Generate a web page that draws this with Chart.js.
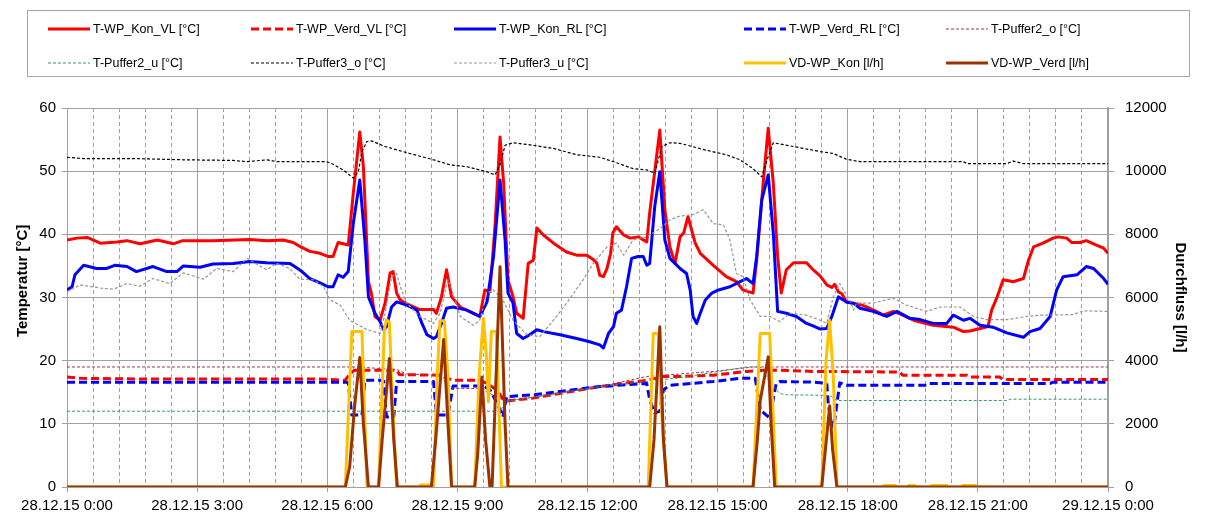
<!DOCTYPE html>
<html>
<head>
<meta charset="utf-8">
<title>Wärmepumpe 28.12.15</title>
<script src="https://cdn.jsdelivr.net/npm/chart.js@4.4.1/dist/chart.umd.min.js"></script>
<style>
  html, body { margin: 0; padding: 0; background: #fff; }
  #wrap { position: relative; width: 1210px; height: 515px; overflow: hidden; }
  #c { position: absolute; left: 0; top: 0; }
  #legend {
    position: absolute; left: 27px; top: 10px; width: 1163px; height: 67px;
    border: 1.5px solid #a6a6a6; box-sizing: border-box;
    font: 12.5px "Liberation Sans", Arial, sans-serif; color: #000;
  }
  .item { position: absolute; height: 16px; display: flex; align-items: center; white-space: nowrap; }
  .item svg { display: block; }
  .item span { position: absolute; top: 0; line-height: 16px; }
</style>
</head>
<body>
<div id="wrap">
  <canvas id="c" width="1210" height="515"></canvas>
  <div id="legend"></div>
</div>
<script>
// Zeit in Minuten ab 28.12.15 0:00, Werte in °C bzw. l/h
const seriesNames = [
  'T-WP_Kon_VL [°C]', 'T-WP_Verd_VL [°C]', 'T-WP_Kon_RL [°C]', 'T-WP_Verd_RL [°C]', 'T-Puffer2_o [°C]',
  'T-Puffer2_u [°C]', 'T-Puffer3_o [°C]', 'T-Puffer3_u [°C]', 'VD-WP_Kon [l/h]', 'VD-WP_Verd [l/h]'
];

const xTickLabels = [
  '28.12.15 0:00', '28.12.15 3:00', '28.12.15 6:00', '28.12.15 9:00', '28.12.15 12:00',
  '28.12.15 15:00', '28.12.15 18:00', '28.12.15 21:00', '29.12.15 0:00'
];

const tWpKonVL = [
  [0,39.1],[14,39.4],[28,39.5],[46,38.6],[69,38.8],[83,39.0],[101,38.5],[125,39.1],[147,38.5],[160,39.0],
  [202,39.0],[253,39.2],[277,39.0],[299,39.1],[313,38.7],[322,38.1],[336,37.3],[350,37.0],[361,36.5],[368,36.5],
  [375,38.7],[382,38.5],[389,38.3],[396,46.5],[405,56.2],[410,50.7],[417,32.5],[421,30.7],[426,27.0],[433,26.4],
  [440,29.1],[447,33.9],[451,34.1],[456,30.7],[461,29.6],[470,29.0],[488,28.1],[507,28.1],[511,27.5],[518,30.1],
  [525,34.4],[532,30.1],[544,28.5],[562,27.5],[571,27.0],[578,31.2],[585,30.9],[592,41.2],[599,55.4],[604,48.1],
  [610,32.8],[617,30.1],[622,27.5],[631,26.7],[638,35.4],[645,35.9],[650,41.0],[659,39.9],[673,38.6],[691,37.2],
  [705,36.7],[719,36.7],[728,36.0],[733,35.4],[737,33.5],[742,33.3],[747,34.6],[752,37.0],[755,40.2],[760,41.2],
  [770,39.9],[779,39.4],[790,39.6],[802,38.8],[806,43.4],[820,56.5],[827,43.8],[834,38.0],[841,35.4],[848,39.6],
  [853,40.2],[859,42.8],[869,38.6],[876,37.0],[894,35.1],[912,33.3],[926,32.5],[935,31.2],[949,30.7],[954,35.9],
  [963,48.1],[970,56.8],[977,48.1],[983,36.5],[988,30.7],[995,34.4],[1005,35.5],[1023,35.5],[1032,34.4],[1042,33.4],
  [1051,32.0],[1058,31.6],[1062,32.1],[1067,30.9],[1072,30.6],[1078,29.3],[1097,28.9],[1106,28.5],[1125,27.5],[1129,27.2],
  [1143,27.8],[1152,27.4],[1171,26.4],[1198,25.6],[1226,25.3],[1240,24.6],[1249,24.7],[1263,25.1],[1274,25.4],[1279,28.0],
  [1286,29.9],[1295,32.8],[1309,32.5],[1323,33.0],[1330,35.9],[1337,38.0],[1350,38.6],[1364,39.4],[1371,39.6],[1383,39.4],
  [1390,38.7],[1401,38.7],[1410,39.0],[1424,38.3],[1434,37.8],[1440,37.0]
];

const tWpVerdVL = [
  [0,17.4],[20,17.2],[100,17.1],[350,17.1],[385,16.9],[392,18.0],[398,18.5],[456,18.5],[460,17.8],[515,17.7],
  [534,16.9],[571,16.9],[581,16.4],[594,15.4],[603,14.0],[608,13.6],[645,14.1],[737,15.9],[802,16.9],[825,17.5],
  [848,17.5],[894,17.7],[940,18.3],[968,18.5],[986,18.5],[1032,18.3],[1152,18.2],[1156,17.7],[1245,17.7],[1249,17.4],
  [1290,17.4],[1295,17.0],[1440,17.0]
];

const tWpKonRL = [
  [0,31.2],[7,31.7],[11,33.6],[23,35.1],[41,34.6],[55,34.6],[66,35.1],[83,34.9],[96,34.1],[119,34.9],
  [138,34.1],[152,34.1],[161,35.0],[184,34.8],[202,35.3],[230,35.4],[253,35.7],[276,35.5],[308,35.4],[315,34.9],
  [325,34.1],[336,33.0],[350,32.3],[361,31.7],[368,31.7],[375,33.6],[382,33.2],[389,34.1],[396,41.7],[405,48.6],
  [412,39.1],[417,30.1],[426,27.5],[433,26.2],[438,24.9],[442,25.4],[449,28.5],[456,29.3],[470,28.8],[484,28.0],
  [491,25.9],[498,24.1],[507,23.5],[511,23.8],[518,25.9],[525,28.3],[534,28.5],[553,28.0],[571,27.0],[581,29.3],
  [590,36.5],[599,48.6],[606,39.1],[610,30.7],[617,29.1],[622,24.3],[631,23.5],[640,24.1],[650,24.9],[659,24.6],
  [682,24.1],[705,23.5],[723,23.0],[737,22.5],[742,22.0],[749,24.3],[756,25.4],[760,27.5],[767,28.0],[774,31.7],
  [781,36.2],[790,36.5],[797,36.5],[802,35.1],[806,35.4],[813,44.4],[820,49.9],[827,39.1],[834,36.2],[841,35.4],
  [848,34.6],[857,33.8],[862,31.2],[866,27.0],[871,25.9],[876,27.5],[883,29.6],[892,30.7],[899,31.1],[917,31.7],
  [931,32.5],[940,33.0],[949,32.2],[954,36.5],[961,45.4],[970,49.4],[977,40.2],[983,27.8],[995,27.5],[1009,27.0],
  [1023,25.9],[1032,25.5],[1042,25.0],[1051,25.1],[1058,27.0],[1067,30.1],[1074,29.6],[1078,29.3],[1088,29.1],[1097,28.3],
  [1115,27.8],[1134,27.0],[1148,27.8],[1166,26.7],[1180,26.5],[1198,25.9],[1217,25.9],[1226,27.2],[1240,26.4],[1249,26.7],
  [1263,25.6],[1281,25.3],[1300,24.4],[1323,23.7],[1332,24.6],[1346,25.1],[1360,27.0],[1369,31.2],[1378,33.3],[1397,33.6],
  [1410,34.9],[1420,34.6],[1434,33.0],[1440,32.1]
];

const tWpVerdRL = [
  [0,16.6],[385,16.6],[389,16.5],[394,11.4],[408,11.4],[412,16.9],[433,16.9],[438,16.8],[442,11.1],[452,11.1],
  [456,16.7],[507,16.7],[511,11.4],[527,11.4],[534,16.0],[576,16.0],[585,15.4],[596,13.0],[603,11.1],[608,14.3],
  [645,14.6],[737,15.9],[802,16.4],[806,13.8],[813,11.7],[820,12.0],[825,15.4],[834,16.1],[894,16.7],[931,17.2],
  [952,17.2],[959,12.2],[972,10.9],[981,16.4],[986,16.7],[1032,16.6],[1051,16.4],[1053,13.2],[1058,9.5],[1062,10.5],
  [1065,13.2],[1069,16.5],[1078,16.1],[1189,16.1],[1193,16.4],[1360,16.4],[1364,16.6],[1440,16.6]
];

const tPuffer2o = [
  [0,19.0],[400,19.0],[456,18.6],[470,17.9],[511,17.7],[525,16.5],[534,15.6],[571,15.6],[594,14.3],[606,13.6],
  [645,14.2],[737,15.9],[802,17.5],[894,18.3],[949,19.0],[1440,19.0]
];

const tPuffer2u = [
  [0,12.0],[599,12.0],[608,13.6],[645,14.2],[737,15.9],[848,17.3],[940,19.0],[959,19.0],[977,15.9],[986,14.8],
  [995,14.6],[1055,14.5],[1065,13.7],[1300,13.7],[1305,13.9],[1440,13.9]
];

const tPuffer3o = [
  [0,52.2],[23,52.0],[91,52.0],[161,51.8],[230,51.7],[249,51.5],[277,51.8],[290,51.5],[359,51.5],[368,51.1],
  [382,50.2],[396,48.9],[403,49.9],[408,53.1],[415,54.7],[421,54.8],[440,53.9],[474,52.8],[507,51.8],[530,51.0],
  [553,50.7],[581,49.9],[592,49.4],[599,51.0],[606,54.1],[617,54.5],[645,54.1],[673,53.6],[705,52.6],[737,52.2],
  [756,51.5],[783,50.4],[802,50.2],[813,49.7],[823,53.9],[834,54.5],[848,54.4],[885,53.3],[912,52.6],[931,51.8],
  [949,50.4],[961,49.1],[970,52.3],[977,54.5],[1005,53.9],[1042,53.1],[1060,52.8],[1078,51.9],[1097,51.5],[1240,51.5],
  [1245,51.2],[1300,51.2],[1309,51.6],[1323,51.2],[1440,51.2]
];

const tPuffer3u = [
  [0,30.9],[18,32.0],[46,31.5],[64,31.3],[83,32.2],[101,31.8],[119,33.0],[142,32.2],[161,33.9],[189,32.9],
  [207,34.6],[230,34.1],[249,36.2],[276,34.4],[290,35.4],[308,34.6],[322,32.9],[341,32.8],[355,31.7],[364,29.6],
  [378,28.8],[391,26.4],[415,24.9],[433,24.3],[440,27.5],[449,33.3],[456,33.8],[461,31.7],[470,29.1],[488,27.0],
  [507,25.9],[516,27.5],[527,32.8],[534,30.7],[544,27.0],[562,25.6],[571,26.4],[581,30.7],[590,31.2],[603,29.6],
  [617,26.4],[636,24.1],[654,23.8],[673,26.4],[691,29.1],[714,32.8],[728,35.4],[747,38.0],[760,38.6],[770,36.7],
  [783,39.1],[802,39.6],[820,40.9],[834,42.3],[848,42.9],[866,43.1],[880,43.9],[894,41.7],[908,41.5],[917,39.1],
  [926,33.8],[935,33.3],[945,29.6],[959,27.0],[972,27.0],[986,26.2],[1000,27.5],[1023,27.2],[1042,26.4],[1051,25.9],
  [1060,30.1],[1069,32.2],[1074,31.2],[1083,29.6],[1088,28.0],[1092,29.1],[1115,29.1],[1143,29.9],[1161,28.8],[1189,27.8],
  [1208,28.5],[1235,28.5],[1254,27.0],[1272,26.5],[1300,26.5],[1328,27.0],[1346,27.2],[1392,27.3],[1406,27.9],[1440,27.8]
];

const vdWpKon = [
  [0,0],[385,0],[394,4920],[408,4920],[415,0],[431,0],[435,2500],[439,5000],[442,5300],[446,5200],
  [450,2800],[456,0],[488,0],[489,60],[503,60],[504,0],[507,0],[512,3500],[516,5260],[522,5260],
  [527,3500],[532,0],[564,0],[570,3500],[576,5340],[580,4200],[583,2700],[587,4920],[594,4920],[601,0],
  [804,0],[811,4860],[818,4860],[822,2500],[830,0],[949,0],[959,4860],[972,4860],[981,0],[1044,0],
  [1050,4000],[1055,5280],[1060,3500],[1065,0],[1129,0],[1130,50],[1146,50],[1147,0],[1163,0],[1164,50],
  [1172,50],[1173,0],[1195,0],[1196,50],[1216,50],[1217,0],[1238,0],[1239,50],[1257,50],[1258,0],[1440,0]
];

const vdWpVerd = [
  [0,0],[385,0],[391,640],[398,2600],[405,4100],[410,2000],[417,0],[431,0],[436,1500],[446,4070],
  [452,1500],[457,0],[504,0],[510,1500],[521,4670],[527,2000],[532,0],[564,0],[568,1000],[574,3480],
  [579,1500],[585,0],[588,0],[599,6970],[606,2000],[610,0],[806,0],[812,1500],[820,5070],[825,1500],
  [830,0],[949,0],[955,1500],[959,2750],[970,4120],[974,2000],[979,0],[1044,0],[1055,2570],[1059,1200],
  [1065,0],[1440,0]
];

const seriesData = [tWpKonVL, tWpVerdVL, tWpKonRL, tWpVerdRL, tPuffer2o, tPuffer2u, tPuffer3o, tPuffer3u, vdWpKon, vdWpVerd];

// Linienstile der Reihen
const seriesStyles = [
  { color: '#ff0000', width: 3,   dash: [],     axis: 'y'  },
  { color: '#ff0000', width: 3,   dash: [8, 4], axis: 'y'  },
  { color: '#0000ff', width: 3,   dash: [],     axis: 'y'  },
  { color: '#0000ff', width: 3,   dash: [8, 4], axis: 'y'  },
  { color: '#993366', width: 1,   dash: [3, 2], axis: 'y'  },
  { color: '#339966', width: 1,   dash: [3, 2], axis: 'y'  },
  { color: '#000000', width: 1.2, dash: [3, 2], axis: 'y'  },
  { color: '#969696', width: 1.2, dash: [3, 2], axis: 'y'  },
  { color: '#ffc000', width: 3,   dash: [],     axis: 'y1' },
  { color: '#993300', width: 3,   dash: [],     axis: 'y1' }
];

const FONT = '"Liberation Sans", Arial, sans-serif';
const GRID = '#a0a0a0';

const datasets = seriesNames.map((name, i) => ({
  label: name,
  data: seriesData[i].map(p => ({ x: p[0], y: p[1] })),
  borderColor: seriesStyles[i].color,
  borderWidth: seriesStyles[i].width,
  borderDash: seriesStyles[i].dash,
  borderCapStyle: 'butt',
  borderJoinStyle: 'round',
  pointRadius: 0,
  tension: 0,
  fill: false,
  yAxisID: seriesStyles[i].axis,
  order: seriesNames.length - i
}));

new Chart(document.getElementById('c'), {
  type: 'line',
  data: { datasets },
  options: {
    responsive: false,
    animation: false,
    events: [],
    layout: { padding: { top: 108, left: 10, right: 17, bottom: 0 } },
    plugins: { legend: { display: false }, tooltip: { enabled: false } },
    scales: {
      x: {
        type: 'linear', position: 'bottom', min: 0, max: 1440, weight: 1,
        afterFit: s => { s.height = 28; },
        ticks: {
          stepSize: 180, autoSkip: false, maxRotation: 0, padding: 5,
          color: '#000', font: { family: FONT, size: 15 },
          callback: v => xTickLabels[Math.round(v / 180)]
        },
        grid: { color: GRID, lineWidth: 1, tickLength: 5, tickColor: GRID },
        border: { display: false }
      },
      xMinor: {
        type: 'linear', position: 'bottom', min: 0, max: 1440, weight: 0,
        afterFit: s => { s.height = 0; },
        ticks: { stepSize: 36, autoSkip: false, display: false },
        grid: {
          drawTicks: false, lineWidth: 1,
          color: ctx => (ctx.tick && ctx.tick.value % 180 === 0) ? 'rgba(0,0,0,0)' : GRID
        },
        border: { display: false, dash: [4, 3] }
      },
      y: {
        position: 'left', min: 0, max: 60,
        afterFit: s => { s.width = 57; },
        ticks: { stepSize: 10, padding: 6, color: '#000', font: { family: FONT, size: 15 } },
        grid: { color: GRID, lineWidth: 1, tickLength: 5, tickColor: GRID },
        border: { display: true, color: GRID, width: 1 },
        title: { display: true, text: '        Temperatur [°C]', color: '#000', padding: { top: 4, bottom: 4 },
                 font: { family: FONT, size: 15, weight: 'bold' } }
      },
      y1: {
        position: 'right', min: 0, max: 12000,
        afterFit: s => { s.width = 85; },
        ticks: { stepSize: 2000, padding: 11, color: '#000', font: { family: FONT, size: 15 },
                 callback: v => String(v) },
        grid: { drawOnChartArea: false, tickLength: 6, tickColor: GRID },
        border: { display: true, color: GRID, width: 1.5 },
        title: { display: true, text: 'Durchfluss [l/h]', color: '#000', padding: { top: 4, bottom: 4 },
                 font: { family: FONT, size: 15, weight: 'bold' } }
      }
    }
  }
});

// Legende: 5 Spalten, 2 Zeilen
const legendCols = [47, 250, 453, 743, 945];
const legendRows = [28, 62];
const legend = document.getElementById('legend');
seriesNames.forEach((name, i) => {
  const st = seriesStyles[i];
  const col = legendCols[i % 5], row = legendRows[Math.floor(i / 5)];
  const item = document.createElement('div');
  item.className = 'item';
  item.style.left = (col - 27) + 'px';
  item.style.top = (row - 10 - 8) + 'px';
  const svgNS = 'http://www.w3.org/2000/svg';
  const svg = document.createElementNS(svgNS, 'svg');
  svg.setAttribute('width', '42'); svg.setAttribute('height', '16');
  const ln = document.createElementNS(svgNS, 'line');
  ln.setAttribute('x1', '0'); ln.setAttribute('x2', '42');
  ln.setAttribute('y1', '8'); ln.setAttribute('y2', '8');
  ln.setAttribute('stroke', st.color);
  ln.setAttribute('stroke-width', st.width);
  if (st.dash.length) ln.setAttribute('stroke-dasharray', st.dash.join(' '));
  svg.appendChild(ln);
  item.appendChild(svg);
  const txt = document.createElement('span');
  txt.textContent = name;
  txt.style.left = '45px';
  item.appendChild(txt);
  legend.appendChild(item);
});
</script>
</body>
</html>
